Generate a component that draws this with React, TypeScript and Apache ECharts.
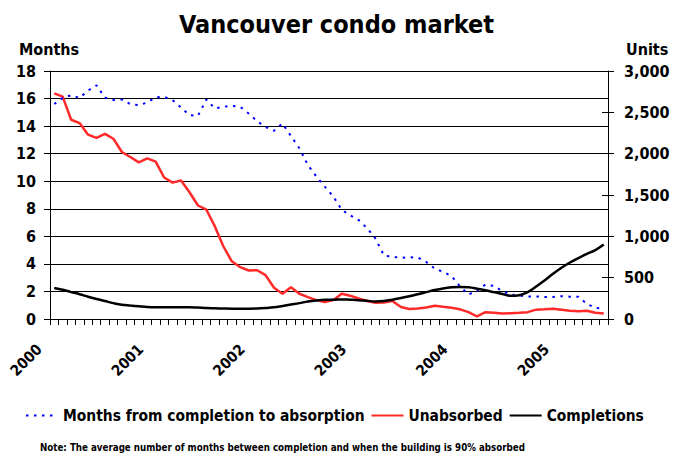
import React, { useEffect, useRef } from "react";
import * as echarts from "echarts";

// Monthly categories: Jan 2000 .. Jun 2005
const YEARS = ["2000", "2001", "2002", "2003", "2004", "2005"];
const MONTHS_PER_YEAR = 12;
const CATEGORY_COUNT = 66;

// Months from completion to absorption (left axis, months)
const monthsToAbsorption = [
  15.6, 16.05, 16.24, 16.05, 16.58, 16.96, 16.07, 15.9, 15.93, 15.59, 15.52, 15.71,
  16.1, 16.12, 15.88, 15.35, 14.8, 14.75, 15.93, 15.28, 15.4, 15.47, 15.4, 14.92,
  14.36, 13.93, 13.66, 14.19, 13.28, 12.39, 11.18, 10.34, 9.61, 8.9, 7.93, 7.52,
  7.18, 6.6, 5.83, 4.6, 4.53, 4.43, 4.48, 4.46, 4.14, 3.66, 3.42, 3.11,
  2.36, 1.78, 2.05, 2.5, 2.4, 2.02, 1.78, 1.7, 1.64, 1.64, 1.6, 1.6,
  1.66, 1.62, 1.62, 1.1, 0.8, 0.77,
];

// Unabsorbed units (right axis)
const unabsorbed = [
  2730, 2690, 2410, 2370, 2230, 2190, 2240, 2180, 2020, 1960, 1895, 1943,
  1903, 1712, 1650, 1675, 1533, 1373, 1322, 1120, 880, 698, 627, 587,
  590, 530, 378, 305, 385, 305, 265, 228, 205, 228, 305, 282,
  248, 217, 197, 200, 217, 145, 120, 128, 140, 160, 148, 137,
  117, 83, 33, 83, 75, 67, 70, 75, 83, 113, 117, 125,
  113, 100, 95, 100, 75, 67,
];

// Completions units (right axis)
const completions = [
  375, 353, 325, 300, 270, 242, 217, 192, 172, 162, 153, 145,
  142, 142, 142, 142, 142, 138, 133, 130, 127, 125, 125, 125,
  127, 133, 142, 158, 175, 192, 212, 225, 233, 233, 237, 233,
  228, 220, 212, 217, 233, 253, 275, 300, 325, 350, 370, 383,
  388, 383, 367, 347, 325, 303, 280, 287, 325, 392, 467, 547,
  620, 683, 737, 787, 833, 900,
];

const categories: string[] = [];
for (let i = 0; i < CATEGORY_COUNT; i++) {
  const y = YEARS[Math.floor(i / MONTHS_PER_YEAR)];
  const m = (i % MONTHS_PER_YEAR) + 1;
  categories.push(`${y}-${m < 10 ? "0" + m : m}`);
}

const FONT = '"DejaVu Sans Condensed", "DejaVu Sans", sans-serif';

export default function App() {
  const ref = useRef<HTMLDivElement>(null);

  useEffect(() => {
    if (!ref.current) return;
    const chart = echarts.init(ref.current, null, { renderer: "svg" });
    chart.setOption({
      animation: false,
      backgroundColor: "#ffffff",
      textStyle: { fontFamily: FONT, color: "#000" },
      title: [
        {
          text: "Vancouver condo market",
          left: "center",
          top: 7,
          textStyle: { fontFamily: FONT, fontSize: 25, fontWeight: "bold", color: "#000" },
        },
        {
          text: "Months",
          left: 14,
          top: 36,
          textStyle: { fontFamily: FONT, fontSize: 16, fontWeight: "bold", color: "#000" },
        },
        {
          text: "Units",
          left: 621,
          top: 36,
          textStyle: { fontFamily: FONT, fontSize: 16, fontWeight: "bold", color: "#000" },
        },
        {
          text: "Note: The average number of months between completion and when the building is 90% absorbed",
          left: 40,
          top: 442,
          padding: 0,
          textStyle: { fontFamily: FONT, fontSize: 9.7, fontWeight: "bold", color: "#000" },
        },
      ],
      legend: {
        left: 20,
        top: 403,
        itemWidth: 32,
        itemHeight: 12,
        itemGap: 6,
        itemStyle: { opacity: 0, borderWidth: 0 },
        textStyle: { fontFamily: FONT, fontSize: 15.4, fontWeight: "bold", color: "#000" },
        data: ["Months from completion to absorption", "Unabsorbed", "Completions"],
      },
      grid: { left: 50, right: 65, top: 71, bottom: 135, containLabel: false },
      xAxis: {
        type: "category",
        data: categories,
        boundaryGap: true,
        axisLine: { show: true, lineStyle: { color: "#000", width: 1 } },
        axisTick: { show: true, interval: 0, length: 6, lineStyle: { color: "#000" } },
        axisLabel: {
          interval: (idx: number) => idx % MONTHS_PER_YEAR === 0,
          formatter: (v: string) => v.slice(0, 4),
          rotate: 45,
          margin: 13,
          padding: [0, 21, 0, 0],
          fontFamily: FONT,
          fontSize: 15,
          fontWeight: "bold",
          color: "#000",
        },
        splitLine: { show: false },
      },
      yAxis: [
        {
          type: "value",
          position: "left",
          min: 0,
          max: 18,
          interval: 2,
          axisLine: { show: true, lineStyle: { color: "#000", width: 1 } },
          axisTick: { show: true, length: 6, lineStyle: { color: "#000" } },
          axisLabel: { margin: 14, fontFamily: FONT, fontSize: 16, fontWeight: "bold", color: "#000" },
          splitLine: { show: true, lineStyle: { color: "#000", width: 1 } },
        },
        {
          type: "value",
          position: "right",
          min: 0,
          max: 3000,
          interval: 500,
          axisLine: { show: true, lineStyle: { color: "#000", width: 1 } },
          axisTick: { show: true, length: 6, lineStyle: { color: "#000" } },
          axisLabel: {
            margin: 16,
            fontFamily: FONT,
            fontSize: 16,
            fontWeight: "bold",
            color: "#000",
            formatter: (v: number) => v.toLocaleString("en-US"),
          },
          splitLine: { show: false },
        },
        {
          type: "value",
          position: "right",
          min: 0,
          max: 3000,
          interval: 500,
          axisLine: { show: false },
          axisTick: { show: true, inside: true, length: 6, lineStyle: { color: "#000" } },
          axisLabel: { show: false },
          splitLine: { show: false },
        },
      ],
      series: [
        {
          name: "Months from completion to absorption",
          type: "line",
          yAxisIndex: 0,
          data: monthsToAbsorption,
          symbol: "none",
          showSymbol: false,
          itemStyle: { color: "#0000ff" },
          lineStyle: { color: "#0000ff", width: 2, type: [2.5, 5.5] },
          z: 3,
        },
        {
          name: "Unabsorbed",
          type: "line",
          yAxisIndex: 1,
          data: unabsorbed,
          symbol: "none",
          showSymbol: false,
          itemStyle: { color: "#ff2a2a" },
          lineStyle: { color: "#ff2a2a", width: 2.5 },
          z: 2,
        },
        {
          name: "Completions",
          type: "line",
          yAxisIndex: 1,
          data: completions,
          symbol: "none",
          showSymbol: false,
          smooth: 0.4,
          itemStyle: { color: "#000" },
          lineStyle: { color: "#000", width: 2.5 },
          z: 4,
        },
      ],
    });
    return () => chart.dispose();
  }, []);

  return (
    <div
      ref={ref}
      style={{ position: "absolute", left: 0, top: 0, width: 673, height: 454, background: "#fff" }}
    />
  );
}
